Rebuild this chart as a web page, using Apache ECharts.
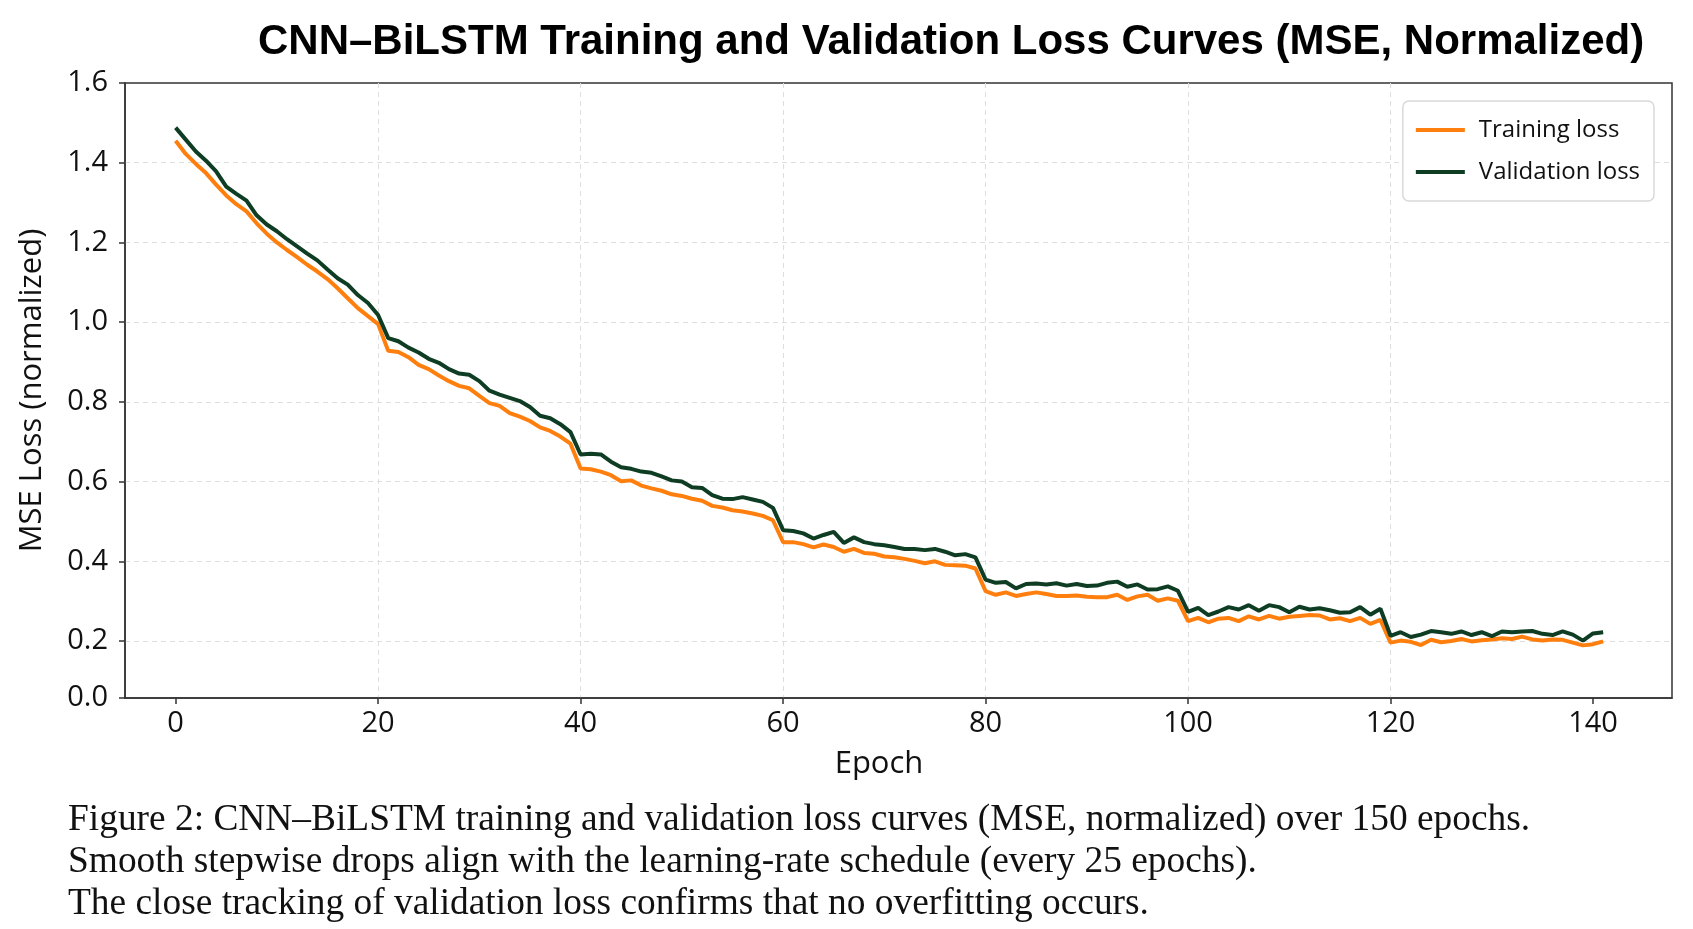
<!DOCTYPE html>
<html>
<head>
<meta charset="utf-8">
<title>CNN-BiLSTM loss curves</title>
<script src="https://cdn.jsdelivr.net/npm/echarts@6/dist/echarts.min.js"></script>
<style>
  html, body { margin: 0; padding: 0; background: #fff; }
  #chart { width: 1693px; height: 929px; }
</style>
</head>
<body>
<div id="chart"></div>
<script>
// epochs 0..141
const epochs = Array.from({ length: 142 }, (_, i) => i);

const trainLoss = [
  1.455, 1.422, 1.397, 1.374, 1.345, 1.318, 1.296, 1.278, 1.248, 1.222,
  1.200, 1.181, 1.163, 1.144, 1.127, 1.108, 1.085, 1.060, 1.035, 1.015,
  0.995, 0.928, 0.925, 0.912, 0.893, 0.882, 0.866, 0.852, 0.840, 0.834,
  0.815, 0.797, 0.790, 0.772, 0.763, 0.752, 0.736, 0.727, 0.713, 0.695,
  0.633, 0.631, 0.625, 0.616, 0.601, 0.603, 0.590, 0.583, 0.577, 0.568,
  0.564, 0.557, 0.552, 0.539, 0.535, 0.528, 0.525, 0.520, 0.514, 0.503,
  0.448, 0.448, 0.443, 0.435, 0.442, 0.436, 0.424, 0.431, 0.421, 0.419,
  0.412, 0.410, 0.406, 0.401, 0.395, 0.400, 0.391, 0.390, 0.389, 0.382,
  0.325, 0.316, 0.322, 0.313, 0.318, 0.322, 0.318, 0.313, 0.313, 0.314,
  0.311, 0.310, 0.310, 0.316, 0.303, 0.312, 0.316, 0.301, 0.307, 0.301,
  0.250, 0.258, 0.247, 0.256, 0.258, 0.250, 0.262, 0.254, 0.263, 0.256,
  0.261, 0.263, 0.265, 0.264, 0.254, 0.257, 0.250, 0.258, 0.243, 0.253,
  0.196, 0.201, 0.198, 0.190, 0.203, 0.197, 0.200, 0.205, 0.199, 0.202,
  0.204, 0.207, 0.205, 0.211, 0.204, 0.201, 0.204, 0.203, 0.196, 0.189,
  0.192, 0.199
];

const valLoss = [
  1.488, 1.458, 1.428, 1.405, 1.378, 1.340, 1.322, 1.305, 1.268, 1.245,
  1.228, 1.208, 1.190, 1.172, 1.155, 1.132, 1.110, 1.094, 1.068, 1.048,
  1.018, 0.960, 0.952, 0.936, 0.924, 0.908, 0.898, 0.882, 0.871, 0.868,
  0.852, 0.828, 0.818, 0.810, 0.802, 0.787, 0.765, 0.759, 0.744, 0.724,
  0.668, 0.670, 0.668, 0.650, 0.636, 0.632, 0.625, 0.622, 0.613, 0.603,
  0.600, 0.586, 0.584, 0.566, 0.557, 0.556, 0.561, 0.555, 0.549, 0.534,
  0.478, 0.476, 0.470, 0.457, 0.466, 0.474, 0.446, 0.460, 0.448, 0.443,
  0.440, 0.436, 0.431, 0.431, 0.428, 0.431, 0.424, 0.415, 0.418, 0.410,
  0.354, 0.346, 0.348, 0.332, 0.343, 0.344, 0.342, 0.345, 0.339, 0.343,
  0.338, 0.339, 0.346, 0.349, 0.336, 0.342, 0.329, 0.330, 0.337, 0.326,
  0.273, 0.283, 0.265, 0.274, 0.285, 0.279, 0.290, 0.276, 0.290, 0.285,
  0.272, 0.286, 0.279, 0.282, 0.277, 0.271, 0.272, 0.285, 0.266, 0.281,
  0.213, 0.222, 0.210, 0.216, 0.225, 0.222, 0.218, 0.224, 0.215, 0.222,
  0.212, 0.224, 0.222, 0.224, 0.225, 0.218, 0.215, 0.224, 0.216, 0.201,
  0.219, 0.222
];

// tick positions / labels (the bottom label "0.0" sits at the axis floor)
const xTicks = [0, 20, 40, 60, 80, 100, 120, 140];
const yFloor = 0.057;
const yTicks = [yFloor, 0.2, 0.4, 0.6, 0.8, 1.0, 1.2, 1.4, 1.6];
const yTickLabels = ['0.0', '0.2', '0.4', '0.6', '0.8', '1.0', '1.2', '1.4', '1.6'];

const captionLines = [
  'Figure 2: CNN\u2013BiLSTM training and validation loss curves (MSE, normalized) over 150 epochs.',
  'Smooth stepwise drops align with the learning-rate schedule (every 25 epochs).',
  'The close tracking of validation loss confirms that no overfitting occurs.'
];

const chart = echarts.init(document.getElementById('chart'));

const axisColor = '#333';
const tickFont = { fontFamily: 'Open Sans', fontSize: 29, color: '#111' };
const nameFont = { fontFamily: 'Open Sans', fontSize: 31, color: '#111' };
const gridLine = { show: true, showMinLine: false, showMaxLine: false,
  lineStyle: { color: '#dedede', width: 1, type: [5, 4] } };

const option = {
  backgroundColor: '#fff',
  animation: false,
  title: {
    text: 'CNN\u2013BiLSTM Training and Validation Loss Curves (MSE, Normalized)',
    left: 258,
    top: 21,
    padding: 0,
    textStyle: { fontFamily: 'Liberation Sans', fontWeight: 'bold', fontSize: 42, color: '#000' }
  },
  legend: {
    orient: 'vertical',
    right: 39,
    top: 101,
    padding: [17, 14, 17, 13],
    itemGap: 18,
    itemWidth: 49,
    itemHeight: 4,
    icon: 'rect',
    backgroundColor: '#fff',
    borderColor: '#d9d9d9',
    borderWidth: 1.5,
    borderRadius: 6,
    textStyle: { fontFamily: 'Open Sans', fontSize: 24, color: '#111', padding: [0, 0, 0, 9] },
    data: ['Training loss', 'Validation loss']
  },
  grid: {
    show: true,
    left: 125,
    right: 21,
    top: 83,
    bottom: 231,
    borderColor: axisColor,
    borderWidth: 1.5,
    backgroundColor: 'transparent'
  },
  xAxis: {
    type: 'value',
    min: -5,
    max: 147.8,
    splitNumber: 7,
    name: 'Epoch',
    nameLocation: 'middle',
    nameGap: 51,
    nameTextStyle: Object.assign({ padding: [0, 39, 0, 0] }, nameFont),
    axisLine: { show: true, onZero: false, lineStyle: { color: axisColor, width: 1.5 } },
    axisTick: { show: true, length: 6, customValues: xTicks, lineStyle: { color: axisColor, width: 1.5 } },
    axisLabel: Object.assign({ customValues: xTicks, margin: 11 }, tickFont),
    splitLine: gridLine
  },
  yAxis: {
    type: 'value',
    min: yFloor,
    max: 1.6,
    splitNumber: 8,
    name: 'MSE Loss (normalized)',
    nameLocation: 'middle',
    nameGap: 77,
    nameTextStyle: nameFont,
    axisLine: { show: true, onZero: false, lineStyle: { color: axisColor, width: 1.5 } },
    axisTick: { show: true, length: 6, customValues: yTicks, lineStyle: { color: axisColor, width: 1.5 } },
    axisLabel: Object.assign({
      customValues: yTicks,
      margin: 17,
      formatter: function (v) {
        const i = yTicks.findIndex(t => Math.abs(t - v) < 1e-6);
        return i >= 0 ? yTickLabels[i] : '';
      }
    }, tickFont),
    splitLine: gridLine
  },
  series: [
    {
      name: 'Training loss',
      type: 'line',
      symbol: 'none',
      color: '#ff7f0e',
      lineStyle: { width: 4, color: '#ff7f0e' },
      data: epochs.map((e, i) => [e, trainLoss[i]])
    },
    {
      name: 'Validation loss',
      type: 'line',
      symbol: 'none',
      color: '#0e3d23',
      lineStyle: { width: 4, color: '#0e3d23' },
      data: epochs.map((e, i) => [e, valLoss[i]])
    }
  ],
  graphic: captionLines.map((line, i) => ({
    type: 'text',
    left: 68,
    top: 802 + i * 42,
    style: {
      text: line,
      fontFamily: 'Liberation Serif',
      fontSize: 37.4,
      fill: '#111'
    }
  }))
};

chart.setOption(option);
</script>
</body>
</html>
